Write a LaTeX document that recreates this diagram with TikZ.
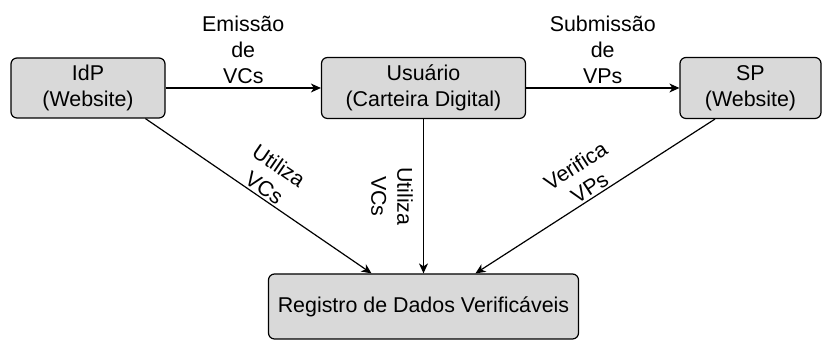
\documentclass[tikz,border=0pt]{standalone}
\usepackage{fontspec}
\setmainfont{Liberation Sans}
\usetikzlibrary{arrows.meta,calc}

\definecolor{boxgray}{RGB}{217,217,217}

\tikzset{
  entity/.style={draw, fill=boxgray, rounded corners=3pt, align=center, line width=0.6pt},
  flow/.style={-{Stealth[length=5pt,width=4.5pt,inset=1.5pt]}, line width=0.6pt},
  flowlabel/.style={align=center, inner sep=2pt}
}

\begin{document}
\begin{tikzpicture}[x=0.5pt, y=-0.5pt, font=\fontsize{10.7}{13}\selectfont]

\useasboundingbox ( 0, 0 ) rectangle ( 827, 340 );

%% Actors
\node [entity, minimum width=77pt, minimum height=30pt] (idp) at ( 88, 88 ) {IdP\\(Website)};
\node [entity, minimum width=102pt, minimum height=30.5pt] (usr) at ( 423.5, 88 ) {Usuário\\(Carteira Digital)};
\node [entity, minimum width=70.5pt, minimum height=30.5pt] (sp) at ( 750.5, 88 ) {SP\\(Website)};

%% Registry
\node [entity, minimum width=155pt, minimum height=32.5pt] (reg) at ( 423.5, 306.5 ) {Registro de Dados Verificáveis};

% Attach points
\coordinate (idpout) at ( $ (idp.south west)!0.87!(idp.south east) $ );
\coordinate (spout) at ( $ (sp.south west)!0.25!(sp.south east) $ );
\coordinate (regleft) at ( $ (reg.north west)!0.333!(reg.north east) $ );
\coordinate (regright) at ( $ (reg.north west)!0.667!(reg.north east) $ );

%% Flows
\draw [flow] (idp) -- (usr) node [flowlabel, midway, above] {Emissão\\de\\VCs};
\draw [flow] (usr) -- (sp) node [flowlabel, midway, above] {Submissão\\de\\VPs};

\draw [flow] (idpout) -- (regleft) node [flowlabel, midway, sloped, above, inner sep=1pt] {Utiliza\\VCs};
\draw [flow] (usr) -- (reg) node [flowlabel, midway, rotate=-90, anchor=north, inner sep=5pt] {Utiliza\\VCs};
\draw [flow] (spout) -- (regright) node [flowlabel, midway, sloped, above, inner sep=1pt] {Verifica\\VPs};

\end{tikzpicture}
\end{document}
